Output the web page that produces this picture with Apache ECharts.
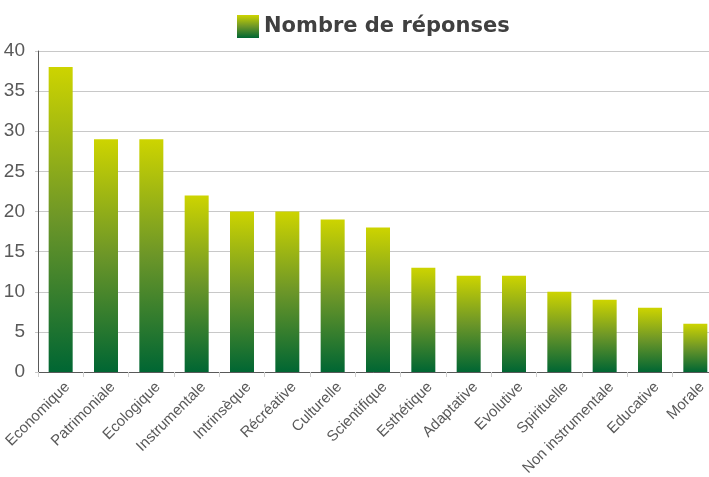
<!DOCTYPE html>
<html>
<head>
<meta charset="utf-8">
<script src="https://cdn.jsdelivr.net/npm/echarts@6/dist/echarts.min.js"></script>
<style>
  html, body { margin: 0; padding: 0; background: #fff; }
  #chart { width: 709px; height: 477px; }
</style>
</head>
<body>
<div id="chart"></div>
<script>
const categories = ['Economique', 'Patrimoniale', 'Ecologique', 'Instrumentale', 'Intrinsèque', 'Récréative', 'Culturelle', 'Scientifique', 'Esthétique', 'Adaptative', 'Evolutive', 'Spirituelle', 'Non instrumentale', 'Educative', 'Morale']
const responses = [38, 29, 29, 22, 20, 20, 19, 18, 13, 12, 12, 10, 9, 8, 6]
const seriesName = 'Nombre de réponses'

const chart = echarts.init(document.getElementById('chart'))

// dégradé vert -> jaune des barres
const barGradient = new echarts.graphic.LinearGradient(0, 0, 0, 1, [
  { offset: 0, color: '#cdd400' },
  { offset: 0.5, color: '#6c9628' },
  { offset: 1, color: '#006633' }
])

const option = {
  animation: false,
  legend: {
    top: 10,
    left: 232,
    itemWidth: 22,
    itemHeight: 23,
    itemGap: 7,
    icon: 'rect',
    textStyle: {
      fontFamily: 'DejaVu Sans',
      fontWeight: 'bold',
      fontSize: 21,
      color: '#404040'
    },
    data: [seriesName]
  },
  grid: {
    left: 38,
    right: -9,
    top: 51,
    bottom: 105,
    containLabel: false,
    outerBoundsMode: 'none'
  },
  xAxis: {
    type: 'category',
    data: categories,
    axisLine: { lineStyle: { color: '#595959', width: 1 } },
    axisTick: { show: true, length: 5, lineStyle: { color: '#d0d0d0' } },
    axisLabel: {
      interval: 0,
      rotate: 45,
      margin: 6,
      verticalAlign: 'top',
      padding: [2, 0, 0, 0],
      fontFamily: 'Liberation Sans',
      fontSize: 15,
      color: '#595959'
    }
  },
  yAxis: {
    type: 'value',
    min: 0,
    max: 40,
    interval: 5,
    axisLine: { show: true, lineStyle: { color: '#595959', width: 1 } },
    axisTick: { show: true, length: 3, lineStyle: { color: '#c8c8c8' } },
    axisLabel: {
      margin: 13,
      fontFamily: 'Liberation Sans',
      fontSize: 19,
      color: '#595959'
    },
    splitLine: { lineStyle: { color: '#c8c8c8' } }
  },
  series: [
    {
      name: seriesName,
      type: 'bar',
      data: responses,
      barWidth: 24,
      itemStyle: { color: barGradient }
    }
  ]
}

chart.setOption(option)
</script>
</body>
</html>
